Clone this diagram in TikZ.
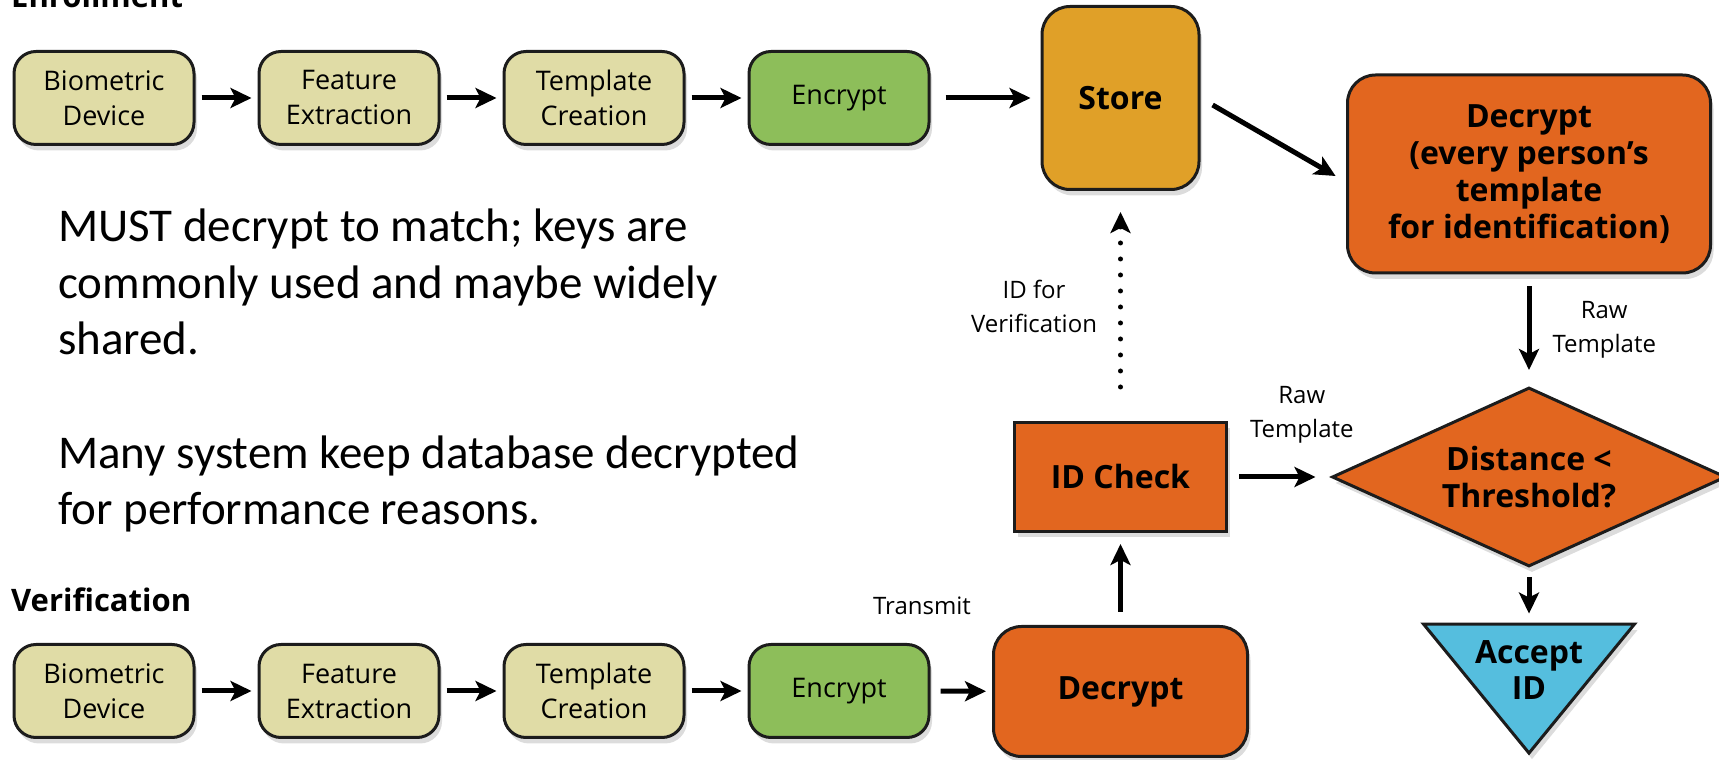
\documentclass[tikz,border=0pt]{standalone}
\usepackage{fontspec}
\setsansfont{Open Sans}
\newfontfamily\notefont{Carlito}
\usepackage{xcolor}
\usepackage{tikz}
\usetikzlibrary{shapes.geometric, arrows.meta, positioning, shadows}
\definecolor{khaki}{HTML}{E0DCA6}
\definecolor{lockgreen}{HTML}{8DBE5A}
\definecolor{vaultgold}{HTML}{E0A028}
\definecolor{burnt}{HTML}{E2661F}
\definecolor{passblue}{HTML}{55BEDE}
\definecolor{inkline}{HTML}{1C1C1C}
\tikzstyle{lifted} = [drop shadow={shadow xshift=3pt, shadow yshift=-6pt, opacity=0.28}]
\tikzstyle{stage} = [rectangle, rounded corners=22pt, minimum width=180pt, minimum height=93pt, align=center, draw=inkline, line width=3pt, fill=khaki, font=\sffamily\fontsize{27}{35}\selectfont, lifted]
\tikzstyle{process} = [rectangle, rounded corners=28pt, align=center, draw=inkline, line width=3pt, fill=burnt, font=\sffamily\bfseries\fontsize{32}{37}\selectfont, lifted]
\tikzstyle{decision} = [diamond, aspect=2.2, minimum width=394pt, minimum height=179pt, align=center, draw=inkline, line width=3pt, fill=burnt, font=\sffamily\bfseries\fontsize{32}{37}\selectfont, lifted]
\tikzstyle{outcome} = [isosceles triangle, isosceles triangle stretches, shape border rotate=270, minimum width=211pt, minimum height=129pt, inner sep=0pt, draw=inkline, line width=3pt, fill=passblue, lifted]
\tikzstyle{annot} = [font=\sffamily\fontsize{24}{34}\selectfont, align=center, inner sep=0pt]
\tikzstyle{heading} = [font=\sffamily\bfseries\fontsize{31}{37}\selectfont, inner sep=0pt, anchor=base west]
\tikzstyle{arrow} = [line width=5pt, -{Stealth[length=21pt, width=20pt, inset=5pt]}, shorten <=6pt, shorten >=6pt]
\tikzstyle{dotarrow} = [arrow, line cap=round, dash pattern=on 0pt off 16pt]

\begin{document}
\begin{tikzpicture}[x=1pt, y=1pt, node distance=62pt]
    \useasboundingbox (0,0) rectangle (1719,760);

    % enrollment chain
    \node[heading] (enrolTitle) at (11,752) {Enrollment};
    \node[stage] (enrolBio) at (104,662) {Biometric\\Device};
    \node[stage, right=of enrolBio] (enrolFeat) {Feature\\Extraction};
    \node[stage, right=of enrolFeat] (enrolTpl) {Template\\Creation};
    \node[stage, fill=lockgreen, right=of enrolTpl] (enrolEnc) {Encrypt};
    \node[process, fill=vaultgold, minimum width=157pt, minimum height=183pt, right=110pt of enrolEnc] (store) {Store};
    \node[process, minimum width=363pt, minimum height=198pt] (bulkDec) at (1529,586) {Decrypt\\(every person’s\\template\\for identification)};

    % matching side
    \node[process, sharp corners, minimum width=212pt, minimum height=109pt, below=230pt of store] (idCheck) {ID Check};
    \node[decision] (match) at (1529,283) {Distance <\\Threshold?};
    \node[outcome, anchor=apex] (accept) at (1529,3) {};
    \node[font=\sffamily\bfseries\fontsize{32}{36}\selectfont, align=center, inner sep=0pt] (acceptTxt) at ([yshift=-47pt]accept.lower side) {Accept\\ID};

    % verification chain
    \node[heading] (verifTitle) at (11,148) {Verification};
    \node[stage] (verifBio) at (104,69) {Biometric\\Device};
    \node[stage, right=of verifBio] (verifFeat) {Feature\\Extraction};
    \node[stage, right=of verifFeat] (verifTpl) {Template\\Creation};
    \node[stage, fill=lockgreen, right=of verifTpl] (verifEnc) {Encrypt};
    \node[process, minimum width=254pt, minimum height=130pt, below=92pt of idCheck] (verifDec) {Decrypt};
    \node[annot, anchor=base] (transmit) at (922,145) {Transmit};

    % remarks (base is the last line)
    \node[anchor=base west, align=left, inner sep=0pt, font=\notefont\fontsize{47}{56.7}\selectfont] (remark) at (58,235) {MUST decrypt to match; keys are\\commonly used and maybe widely\\shared.\\[56.7pt]Many system keep database decrypted\\for performance reasons.};

    \draw[arrow] (enrolBio) -- (enrolFeat);
    \draw[arrow] (enrolFeat) -- (enrolTpl);
    \draw[arrow] (enrolTpl) -- (enrolEnc);
    \draw[arrow, shorten <=15pt, shorten >=10pt] (enrolEnc) -- (store);
    \draw[arrow, shorten <=14pt, shorten >=12pt] (store.east) -- ([yshift=-8pt]bulkDec.west);
    \draw[arrow, shorten <=12pt, shorten >=16pt] (bulkDec) -- node[annot, right=21pt] (rawDown) {Raw\\Template} (match);
    \draw[arrow, shorten <=11pt, shorten >=15pt] (idCheck) -- node[annot, pos=0.72, above=31pt] (rawSide) {Raw\\Template} (match);
    \draw[arrow, shorten <=9pt, shorten >=9pt] (match) -- (accept);
    \draw[dotarrow, shorten <=34pt, shorten >=21pt] (idCheck) -- node[annot, left=21pt] (idNote) {ID for\\Verification} (store);

    \draw[arrow] (verifBio) -- (verifFeat);
    \draw[arrow] (verifFeat) -- (verifTpl);
    \draw[arrow] (verifTpl) -- (verifEnc);
    \draw[arrow, shorten <=10pt, shorten >=6pt] (verifEnc) -- (verifDec);
    \draw[arrow, shorten <=13pt, shorten >=11pt] (verifDec) -- (idCheck);
\end{tikzpicture}
\end{document}
